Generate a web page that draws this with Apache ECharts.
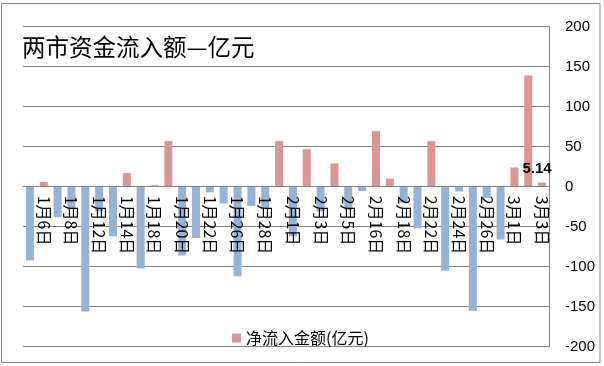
<!DOCTYPE html>
<html>
<head>
<meta charset="utf-8">
<script src="https://cdn.jsdelivr.net/npm/echarts@6/dist/echarts.min.js"></script>
<style>
html,body{margin:0;padding:0;background:#fff;}
#chart{width:604px;height:366px;}
</style>
</head>
<body>
<div id="chart"></div>
<script>
const categories = ['1月5日','1月6日','1月7日','1月8日','1月11日','1月12日','1月13日','1月14日','1月15日','1月18日','1月19日','1月20日','1月21日','1月22日','1月25日','1月26日','1月27日','1月28日','1月29日','2月1日','2月2日','2月3日','2月4日','2月5日','2月15日','2月16日','2月17日','2月18日','2月19日','2月22日','2月23日','2月24日','2月25日','2月26日','2月29日','3月1日','3月2日','3月3日'];
const netInflow = [-92, 6, -38, -28, -156, -31, -62, 17, -102, 2, 57, -86, -64, -7, -21, -112, -24, -28, 57, -62, 47, -31, 29, -29, -5.5, 69.5, 10, -20, -52, 57, -105, -6, -155, -14, -66, 24, 139, 5.14];
const yTicks = [-200, -150, -100, -50, 0, 50, 100, 150, 200];
const seriesName = '净流入金额(亿元)';
const titleText = '两市资金流入额—亿元';

const POS = '#D99694', NEG = '#95B3D7', GRID = '#868686';
const GRID_TOP = 26.7, GRID_BOTTOM = 19.3, H = 366;
const last = netInflow.length - 1;
const data = netInflow.map((v, i) => {
  const d = { value: v, itemStyle: { color: v >= 0 ? POS : NEG } };
  if (i === last) {
    d.label = { show: true, position: 'top', offset: [-5, -1], formatter: String(v),
      fontSize: 15, fontWeight: 'bold', color: '#000', fontFamily: 'Liberation Sans, Arial, sans-serif' };
  }
  return d;
});
// the x axis sits on the value 0, which is the middle of the symmetric -200..200 range
const zeroOffset = -(H - GRID_TOP - GRID_BOTTOM) / 2;

const chart = echarts.init(document.getElementById('chart'), null, { renderer: 'canvas' });
chart.setOption({
  animation: false,
  backgroundColor: '#fff',
  title: {
    text: titleText, left: 22, top: 35, padding: 0,
    textStyle: { fontSize: 23.5, fontWeight: 'normal', color: '#000', fontFamily: 'Noto Sans CJK SC, sans-serif' }
  },
  graphic: [{
    type: 'rect', shape: { x: 1.5, y: 3.5, width: 598.5, height: 359 },
    style: { fill: null, stroke: '#888', lineWidth: 1 }, silent: true, z: 100
  }],
  legend: {
    data: [{ name: seriesName, icon: 'rect', itemStyle: { color: POS } }],
    left: 232, top: 330, itemWidth: 9, itemHeight: 9, itemGap: 5, padding: 0,
    textStyle: { fontSize: 16, color: '#000', fontFamily: 'Noto Sans CJK SC, sans-serif' }
  },
  grid: { left: 23, right: 55, top: GRID_TOP, bottom: GRID_BOTTOM, containLabel: false, outerBoundsMode: 'none' },
  xAxis: {
    type: 'category', data: categories, offset: zeroOffset,
    axisLine: { onZero: false, lineStyle: { color: GRID, width: 1 } },
    axisTick: { show: false },
    axisLabel: {
      interval: (i) => i % 2 === 1, rotate: -90, margin: 9,
      fontSize: 16, color: '#000', fontFamily: 'Noto Sans CJK SC, sans-serif'
    },
    z: 5
  },
  yAxis: {
    type: 'value', position: 'right', min: -200, max: 200, interval: 50,
    axisLine: { show: true, onZero: false, lineStyle: { color: GRID } },
    axisTick: { show: false },
    splitLine: { lineStyle: { color: GRID, width: 1 } },
    axisLabel: { margin: 16, fontSize: 15, color: '#000', fontFamily: 'Liberation Sans, Arial, sans-serif',
      formatter: (v) => yTicks.includes(v) ? String(v) : '' }
  },
  series: [{
    name: seriesName, type: 'bar', data: data, barWidth: 8, color: POS, z: 2
  }]
});
</script>
</body>
</html>
